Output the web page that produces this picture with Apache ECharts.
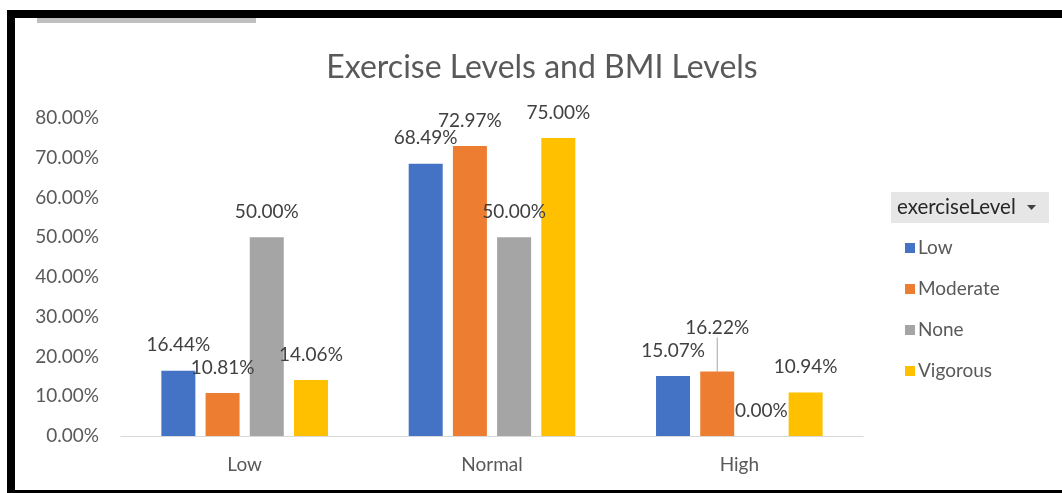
<!DOCTYPE html>
<html>
<head>
<meta charset="utf-8">
<script src="https://cdn.jsdelivr.net/npm/echarts@6/dist/echarts.min.js"></script>
<style>
html,body{margin:0;padding:0;background:#fff;}
#chart{width:1062px;height:493px;}
</style>
</head>
<body>
<div id="chart"></div>
<script>
const categories = ['Low', 'Normal', 'High'];
const seriesNames = ['Low', 'Moderate', 'None', 'Vigorous'];
const lowValues = [16.44, 68.49, 15.07];
const moderateValues = [10.81, 72.97, 16.22];
const noneValues = [50.00, 50.00, 0.00];
const vigorousValues = [14.06, 75.00, 10.94];
const yTicks = [0, 10, 20, 30, 40, 50, 60, 70, 80];
const colors = ['#4472C4', '#ED7D31', '#A5A5A5', '#FFC000'];

const FONT = 'Lato';
const chart = echarts.init(document.getElementById('chart'));
const allValues = [lowValues, moderateValues, noneValues, vigorousValues];

const series = seriesNames.map((name, i) => ({
  name: name,
  type: 'bar',
  barWidth: 34,
  barGap: '30%',
  itemStyle: { color: colors[i] },
  label: {
    show: true,
    position: 'top',
    distance: 16,
    fontFamily: FONT,
    fontSize: 19,
    lineHeight: 19,
    color: '#404040',
    formatter: p => p.value.toFixed(2) + '%'
  },
  labelLine: { show: false },
  labelLayout: (name === 'Moderate') ? function (params) {
    if (params.dataIndex === 2) return { dy: -18 };
    return {};
  } : undefined,
  data: allValues[i].map((v, j) => {
    if (name === 'Moderate' && j === 2) {
      return { value: v, labelLine: { show: true, lineStyle: { color: '#A6A6A6', width: 1 } } };
    }
    return v;
  })
}));

chart.setOption({
  animation: false,
  backgroundColor: '#ffffff',
  title: {
    text: 'Exercise Levels and BMI Levels',
    left: 537,
    top: 47,
    textAlign: 'center',
    textStyle: { fontFamily: FONT, fontSize: 32, fontWeight: 'normal', color: '#595959' }
  },
  legend: {
    orient: 'vertical',
    left: 900,
    top: 233,
    icon: 'rect',
    itemWidth: 10,
    itemHeight: 10,
    itemGap: 21,
    data: seriesNames,
    textStyle: { fontFamily: FONT, fontSize: 19, lineHeight: 20, color: '#595959', padding: [0, 0, 0, -2] }
  },
  grid: { left: 121, right: 199, top: 118, bottom: 57 },
  xAxis: {
    type: 'category',
    data: categories,
    axisLine: { lineStyle: { color: '#D9D9D9', width: 1 } },
    axisTick: { show: false },
    axisLabel: { fontFamily: FONT, fontSize: 19, color: '#595959', margin: 19 }
  },
  yAxis: {
    type: 'value',
    min: yTicks[0],
    max: yTicks[yTicks.length - 1],
    interval: 10,
    splitLine: { show: false },
    axisLine: { show: false },
    axisTick: { show: false },
    axisLabel: { fontFamily: FONT, fontSize: 19, color: '#595959', margin: 22, formatter: v => v.toFixed(2) + '%' }
  },
  graphic: [
    { type: 'rect', shape: { x: 7, y: 10, width: 1060, height: 8 }, style: { fill: '#000' } },
    { type: 'rect', shape: { x: 7, y: 10, width: 8, height: 490 }, style: { fill: '#000' } },
    { type: 'rect', shape: { x: 7, y: 490, width: 1060, height: 5 }, style: { fill: '#000' } },
    { type: 'rect', shape: { x: 37, y: 18, width: 219, height: 5 }, style: { fill: '#BFBFBF' } },
    { type: 'rect', shape: { x: 891, y: 192, width: 158, height: 31 }, style: { fill: '#E6E6E6' } },
    { type: 'text', x: 897, y: 207.5, style: { text: 'exerciseLevel', fontFamily: FONT, fontSize: 20.5, fill: '#262626', verticalAlign: 'middle' } },
    { type: 'polygon', shape: { points: [[1027, 205], [1036, 205], [1031.5, 210]] }, style: { fill: '#404040' } }
  ],
  series: series
});
</script>
</body>
</html>
